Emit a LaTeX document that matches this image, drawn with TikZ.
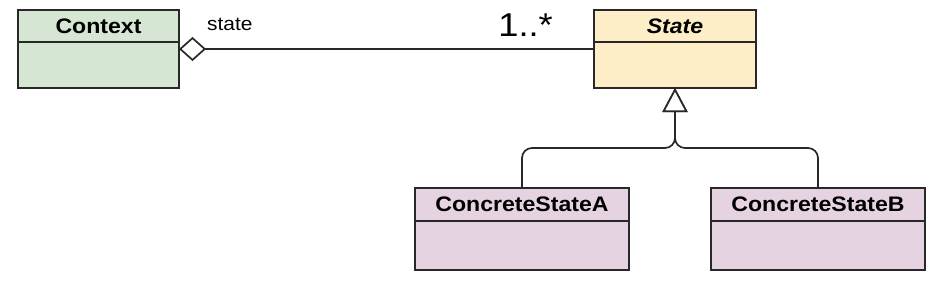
\documentclass[tikz,border=0pt]{standalone}
\usepackage{fontspec}
\setmainfont{Liberation Sans}[FakeStretch=1.1]
\usepackage{xcolor}
\usetikzlibrary{arrows.meta,positioning,calc}

\definecolor{ctxgreen}{RGB}{213,231,211}
\definecolor{stateyellow}{RGB}{253,238,199}
\definecolor{concpink}{RGB}{230,211,225}
\definecolor{umlline}{RGB}{40,40,40}

\tikzset{
  classhead/.style={draw=umlline, line width=1.7pt, outer sep=0pt, inner sep=2pt,
    minimum height=32pt, font=\fontsize{21}{24}\selectfont\bfseries},
  classbody/.style={draw=umlline, line width=1.7pt, outer sep=0pt, minimum height=46pt},
  rolelabel/.style={inner sep=0pt, font=\fontsize{19}{22}\selectfont},
  assoc/.style={draw=umlline, line width=1.7pt},
  gen/.style={draw=umlline, line width=1.7pt, rounded corners=10pt,
    -{Triangle[open, length=24pt, width=25pt, fill=white]}}
}

\begin{document}
\begin{tikzpicture}[x=1pt, y=-1pt]
    \useasboundingbox (0,0) rectangle (941,298);

    \node[classhead, fill=ctxgreen, minimum width=161pt, anchor=north west] (ctxhead) at (18,10) {Context};
    \node[classbody, fill=ctxgreen, minimum width=161pt, below=0pt of ctxhead] (ctxbody) {};

    \node[classhead, fill=stateyellow, minimum width=162pt, anchor=north west] (sthead) at (594,10) {\itshape State};
    \node[classbody, fill=stateyellow, minimum width=162pt, below=0pt of sthead] (stbody) {};

    \node[classhead, fill=concpink, minimum width=214pt, minimum height=33pt, anchor=north west] (cahead) at (415,188) {ConcreteStateA};
    \node[classbody, fill=concpink, minimum width=214pt, minimum height=49pt, below=0pt of cahead] (cabody) {};

    \node[classhead, fill=concpink, minimum width=214pt, minimum height=33pt, anchor=north west] (cbhead) at (711,188) {ConcreteStateB};
    \node[classbody, fill=concpink, minimum width=214pt, minimum height=49pt, below=0pt of cbhead] (cbbody) {};

    \coordinate (ctxend) at ($(ctxbody.north east)+(0,7)$);
    \coordinate (stend) at ($(stbody.north west)+(0,7)$);
    \draw[assoc, {Diamond[open, length=27pt, width=24pt, fill=white]}-] (ctxend) -- (stend);

    \node[rolelabel, above right=18pt and 28pt of ctxend] (rolename) {state};
    \node[rolelabel, font=\fontsize{33}{36}\selectfont, above left=12pt and 41pt of stend] (mult) {1..*};

    \coordinate (fork) at ($(stbody.south)+(0,60)$);
    \draw[gen] (cahead.north) |- (fork) -- (stbody.south);
    \draw[gen] (cbhead.north) |- (fork) -- (stbody.south);
\end{tikzpicture}
\end{document}
